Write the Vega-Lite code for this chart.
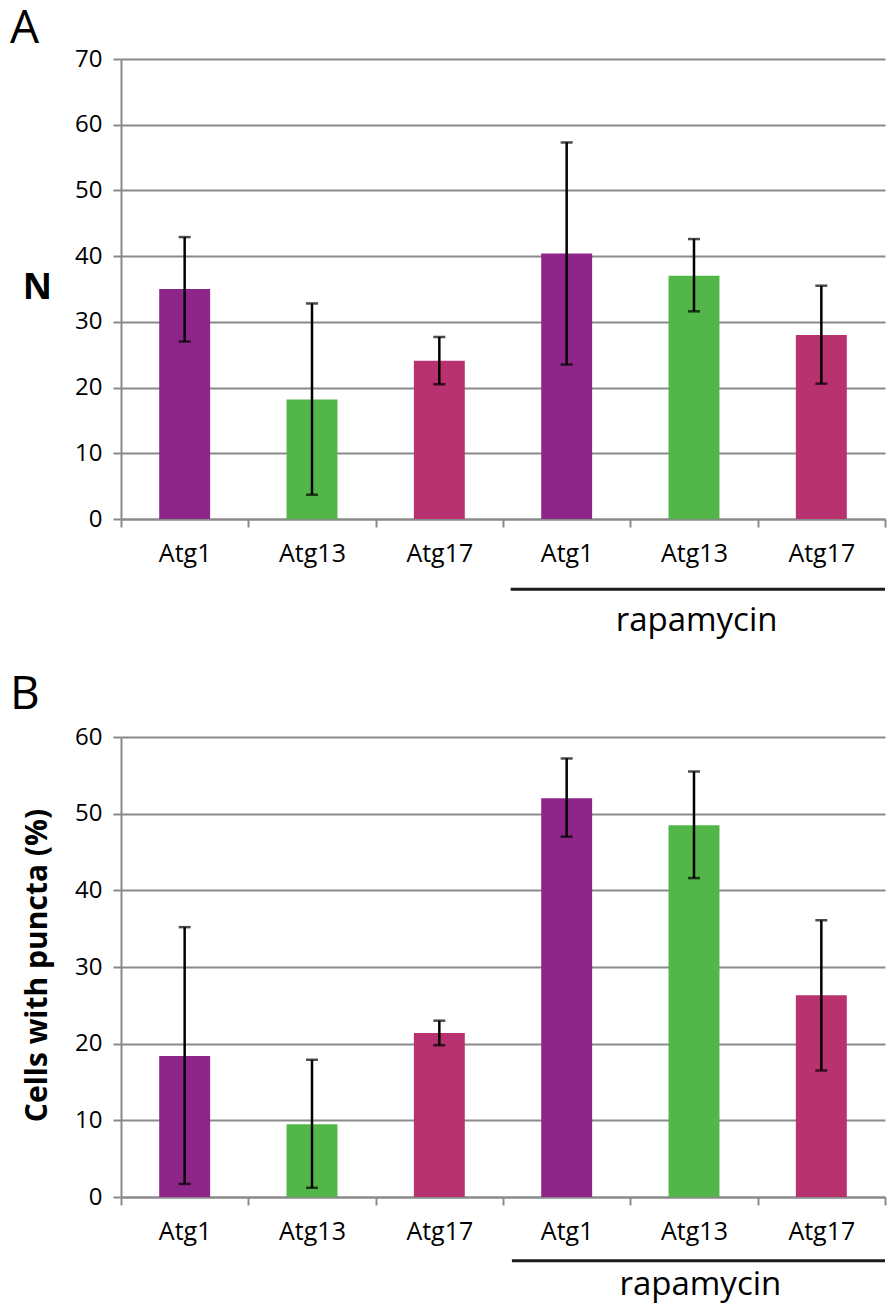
{
  "$schema": "https://vega.github.io/schema/vega-lite/v6.json",
  "padding": {"left": 10, "top": 6, "right": 0, "bottom": 8},
  "background": "white",
  "config": {
    "font": "Open Sans",
    "view": {"stroke": null},
    "axis": {
      "labelFont": "Open Sans",
      "labelFontSize": 24,
      "labelColor": "#000000",
      "gridColor": "#8a8a8a",
      "gridWidth": 2,
      "domainColor": "#8a8a8a",
      "domainWidth": 2,
      "tickColor": "#8a8a8a",
      "tickWidth": 2,
      "tickSize": 8,
      "titleFont": "Open Sans",
      "titleColor": "#000000"
    },
    "title": {"font": "Open Sans", "color": "#000000"}
  },
  "datasets": {
    "a": [
      {"key": "Atg1", "protein": "Atg1", "value": 35.0, "lo": 27.0, "hi": 42.9},
      {"key": "Atg13", "protein": "Atg13", "value": 18.2, "lo": 3.7, "hi": 32.8},
      {"key": "Atg17", "protein": "Atg17", "value": 24.1, "lo": 20.5, "hi": 27.7},
      {"key": "Atg1 rapamycin", "protein": "Atg1", "value": 40.4, "lo": 23.5, "hi": 57.3},
      {"key": "Atg13 rapamycin", "protein": "Atg13", "value": 37.0, "lo": 31.6, "hi": 42.6},
      {"key": "Atg17 rapamycin", "protein": "Atg17", "value": 28.0, "lo": 20.6, "hi": 35.5}
    ],
    "b": [
      {"key": "Atg1", "protein": "Atg1", "value": 18.4, "lo": 1.7, "hi": 35.2},
      {"key": "Atg13", "protein": "Atg13", "value": 9.5, "lo": 1.2, "hi": 17.9},
      {"key": "Atg17", "protein": "Atg17", "value": 21.4, "lo": 19.8, "hi": 23.0},
      {"key": "Atg1 rapamycin", "protein": "Atg1", "value": 52.0, "lo": 47.0, "hi": 57.2},
      {"key": "Atg13 rapamycin", "protein": "Atg13", "value": 48.5, "lo": 41.6, "hi": 55.5},
      {"key": "Atg17 rapamycin", "protein": "Atg17", "value": 26.3, "lo": 16.5, "hi": 36.1}
    ],
    "annA": [{"start": 3.06, "end": 6, "yline": -10.7, "mid": 4.52, "ytext": -17.0, "label": "rapamycin"}],
    "annB": [{"start": 3.07, "end": 6, "yline": -8.3, "mid": 4.55, "ytext": -12.8, "label": "rapamycin"}]
  },
  "bounds": "flush",
  "spacing": 218,
  "vconcat": [
    {
      "title": {"text": "A", "anchor": "start", "frame": "group", "fontSize": 46, "fontWeight": "normal", "dx": -111, "offset": -42, "baseline": "alphabetic"},
      "width": 764,
      "height": 460,
      "layer": [
        {
          "data": {"name": "a"},
          "layer": [
            {
              "mark": {"type": "bar", "width": {"band": 0.4}},
              "encoding": {
                "x": {"field": "key", "type": "nominal", "sort": ["Atg1", "Atg13", "Atg17", "Atg1 rapamycin", "Atg13 rapamycin", "Atg17 rapamycin"], "scale": {"paddingInner": 0, "paddingOuter": 0},
                  "axis": {"title": null, "labelExpr": "split(datum.label, ' ')[0]", "labelAngle": 0, "labelFontSize": 25, "tickBand": "extent", "grid": false, "labelPadding": 14}},
                "y": {"field": "value", "type": "quantitative", "scale": {"domain": [0, 70]},
                  "axis": {"title": "N", "values": [0, 10, 20, 30, 40, 50, 60, 70], "grid": true, "labelPadding": 11, "titleAngle": 0, "titleFontSize": 36, "titleFontWeight": "bold", "titleX": -84, "titleY": 228, "titleAlign": "center", "titleBaseline": "middle"}},
                "color": {"field": "protein", "type": "nominal", "scale": {"domain": ["Atg1", "Atg13", "Atg17"], "range": ["#8e2689", "#52b748", "#b8326f"]}, "legend": null}
              }
            },
            {
              "mark": {"type": "rule", "color": "#000000", "strokeWidth": 2.5},
              "encoding": {
                "x": {"field": "key", "type": "nominal", "sort": ["Atg1", "Atg13", "Atg17", "Atg1 rapamycin", "Atg13 rapamycin", "Atg17 rapamycin"]},
                "y": {"field": "lo", "type": "quantitative"},
                "y2": {"field": "hi"}
              }
            },
            {
              "mark": {"type": "tick", "color": "#000000", "thickness": 2.5, "size": 12},
              "encoding": {
                "x": {"field": "key", "type": "nominal", "sort": ["Atg1", "Atg13", "Atg17", "Atg1 rapamycin", "Atg13 rapamycin", "Atg17 rapamycin"]},
                "y": {"field": "lo", "type": "quantitative"}
              }
            },
            {
              "mark": {"type": "tick", "color": "#000000", "thickness": 2.5, "size": 12},
              "encoding": {
                "x": {"field": "key", "type": "nominal", "sort": ["Atg1", "Atg13", "Atg17", "Atg1 rapamycin", "Atg13 rapamycin", "Atg17 rapamycin"]},
                "y": {"field": "hi", "type": "quantitative"}
              }
            }
          ]
        },
        {
          "data": {"name": "annA"},
          "layer": [
            {
              "mark": {"type": "rule", "color": "#1a1a1a", "strokeWidth": 3},
              "encoding": {
                "x": {"field": "start", "type": "quantitative", "scale": {"domain": [0, 6]}, "axis": null},
                "x2": {"field": "end"},
                "y": {"field": "yline", "type": "quantitative", "axis": null}
              }
            },
            {
              "mark": {"type": "text", "fontSize": 33, "baseline": "alphabetic", "align": "center", "color": "#000000"},
              "encoding": {
                "x": {"field": "mid", "type": "quantitative", "axis": null},
                "y": {"field": "ytext", "type": "quantitative", "axis": null},
                "text": {"field": "label"}
              }
            }
          ]
        }
      ],
      "resolve": {"scale": {"x": "independent"}, "axis": {"y": "independent"}}
    },
    {
      "title": {"text": "B", "anchor": "start", "frame": "group", "fontSize": 46, "fontWeight": "normal", "dx": -111, "offset": -30, "baseline": "alphabetic"},
      "width": 764,
      "height": 460,
      "layer": [
        {
          "data": {"name": "b"},
          "layer": [
            {
              "mark": {"type": "bar", "width": {"band": 0.4}},
              "encoding": {
                "x": {"field": "key", "type": "nominal", "sort": ["Atg1", "Atg13", "Atg17", "Atg1 rapamycin", "Atg13 rapamycin", "Atg17 rapamycin"], "scale": {"paddingInner": 0, "paddingOuter": 0},
                  "axis": {"title": null, "labelExpr": "split(datum.label, ' ')[0]", "labelAngle": 0, "labelFontSize": 25, "tickBand": "extent", "grid": false, "labelPadding": 14}},
                "y": {"field": "value", "type": "quantitative", "scale": {"domain": [0, 60]},
                  "axis": {"title": "Cells with puncta (%)", "values": [0, 10, 20, 30, 40, 50, 60], "grid": true, "labelPadding": 11, "titleAngle": 270, "titleFontSize": 30, "titleFontWeight": "bold", "titleX": -84, "titleY": 228, "titleAlign": "center", "titleBaseline": "middle"}},
                "color": {"field": "protein", "type": "nominal", "scale": {"domain": ["Atg1", "Atg13", "Atg17"], "range": ["#8e2689", "#52b748", "#b8326f"]}, "legend": null}
              }
            },
            {
              "mark": {"type": "rule", "color": "#000000", "strokeWidth": 2.5},
              "encoding": {
                "x": {"field": "key", "type": "nominal", "sort": ["Atg1", "Atg13", "Atg17", "Atg1 rapamycin", "Atg13 rapamycin", "Atg17 rapamycin"]},
                "y": {"field": "lo", "type": "quantitative"},
                "y2": {"field": "hi"}
              }
            },
            {
              "mark": {"type": "tick", "color": "#000000", "thickness": 2.5, "size": 12},
              "encoding": {
                "x": {"field": "key", "type": "nominal", "sort": ["Atg1", "Atg13", "Atg17", "Atg1 rapamycin", "Atg13 rapamycin", "Atg17 rapamycin"]},
                "y": {"field": "lo", "type": "quantitative"}
              }
            },
            {
              "mark": {"type": "tick", "color": "#000000", "thickness": 2.5, "size": 12},
              "encoding": {
                "x": {"field": "key", "type": "nominal", "sort": ["Atg1", "Atg13", "Atg17", "Atg1 rapamycin", "Atg13 rapamycin", "Atg17 rapamycin"]},
                "y": {"field": "hi", "type": "quantitative"}
              }
            }
          ]
        },
        {
          "data": {"name": "annB"},
          "layer": [
            {
              "mark": {"type": "rule", "color": "#1a1a1a", "strokeWidth": 3},
              "encoding": {
                "x": {"field": "start", "type": "quantitative", "scale": {"domain": [0, 6]}, "axis": null},
                "x2": {"field": "end"},
                "y": {"field": "yline", "type": "quantitative", "axis": null}
              }
            },
            {
              "mark": {"type": "text", "fontSize": 33, "baseline": "alphabetic", "align": "center", "color": "#000000"},
              "encoding": {
                "x": {"field": "mid", "type": "quantitative", "axis": null},
                "y": {"field": "ytext", "type": "quantitative", "axis": null},
                "text": {"field": "label"}
              }
            }
          ]
        }
      ],
      "resolve": {"scale": {"x": "independent"}, "axis": {"y": "independent"}}
    }
  ]
}
